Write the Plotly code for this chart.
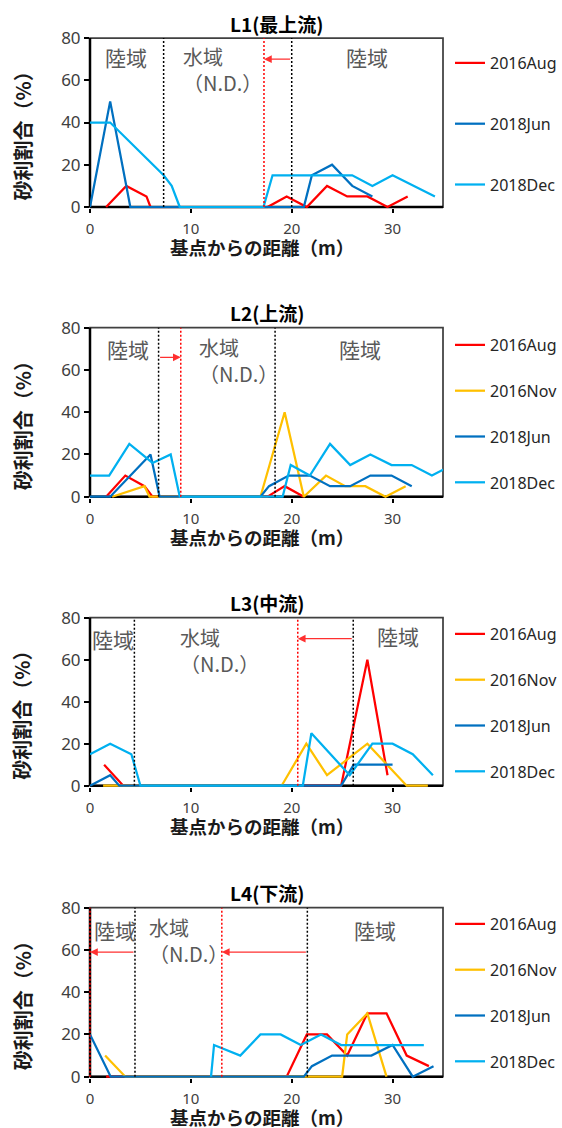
import plotly.graph_objects as go

# Gravel ratio (%) along each transect, by distance from the base point (m)
# ---------------------------------------------------------------- L1 (最上流)
L1_AUG_X = [1.6, 3.6, 5.6, 6.0, 17.6, 19.5, 21.5, 23.5, 25.5, 27.5, 29.5, 31.5]
L1_AUG_Y = [0, 10, 5, 0, 0, 5, 0, 10, 5, 5, 0, 5]
L1_JUN_X = [0, 2, 4, 21.2, 22, 24, 26, 28]
L1_JUN_Y = [0, 50, 0, 0, 15, 20, 10, 5]
L1_DEC_X = [0, 2, 7.3, 8.1, 8.9, 17.2, 18.1, 26, 28, 30, 34.2]
L1_DEC_Y = [40, 40, 15, 10, 0, 0, 15, 15, 10, 15, 5]

# ---------------------------------------------------------------- L2 (上流)
L2_AUG_X = [1.6, 3.5, 5.4, 6.2, 17.6, 19.3, 21.2]
L2_AUG_Y = [0, 10, 5, 0, 0, 5, 0]
L2_NOV_X = [2.2, 5.4, 5.9, 16.9, 19.3, 21.2, 23.4, 25.3, 27.3, 29.3, 31.3]
L2_NOV_Y = [0, 5, 0, 0, 40, 0, 10, 5, 5, 0, 5]
L2_JUN_X = [0, 2, 6, 6.9, 16.9, 17.75, 19.7, 21.8, 23.8, 25.8, 27.8, 29.9, 31.9]
L2_JUN_Y = [0, 0, 20, 0, 0, 5, 10, 10, 5, 5, 10, 10, 5]
L2_DEC_X = [0, 1.9, 3.9, 6.2, 8.0, 8.9, 19.1, 19.9, 21.8, 23.8, 25.8, 27.8, 29.9, 31.9, 33.9, 35.9]
L2_DEC_Y = [10, 10, 25, 16, 20, 0, 0, 15, 10, 25, 15, 20, 15, 15, 10, 15]

# ---------------------------------------------------------------- L3 (中流)
L3_AUG_X = [1.4, 3.3, 24.9, 27.5, 29.5]
L3_AUG_Y = [10, 0, 0, 60, 5]
L3_NOV_X = [1.3, 3.3, 19.0, 21.45, 23.5, 27.5, 31.4, 33.5]
L3_NOV_Y = [0, 0, 0, 20, 5, 20, 0, 0]
L3_JUN_X = [0, 2.0, 2.9, 24.9, 26.15, 30.0]
L3_JUN_Y = [0, 5, 0, 0, 10, 10]
L3_DEC_X = [0, 2.0, 4.1, 5.0, 21.1, 21.95, 25.75, 28.0, 30.0, 32.0, 34.0]
L3_DEC_Y = [15, 20, 15, 0, 0, 25, 5, 20, 20, 15, 5]

# ---------------------------------------------------------------- L4 (下流)
L4_AUG_X = [1.6, 19.5, 21.5, 23.5, 25.5, 27.5, 29.4, 31.4, 33.6]
L4_AUG_Y = [0, 0, 20, 20, 10, 30, 30, 10, 5]
L4_NOV_X = [1.5, 3.5, 25.0, 25.5, 27.5, 29.4]
L4_NOV_Y = [10, 0, 0, 20, 30, 0]
L4_JUN_X = [0, 2.05, 21.2, 22.0, 24.0, 26.0, 27.9, 30.0, 32.0, 34.06]
L4_JUN_Y = [20, 0, 0, 5, 10, 10, 10, 15, 0, 5]
L4_DEC_X = [12.0, 12.3, 14.9, 16.9, 18.9, 20.9, 22.9, 24.9, 33.1]
L4_DEC_Y = [0, 15, 10, 20, 20, 15, 20, 15, 15]

# Land/water boundaries (m): black = current edge, red = shifted edge
L1_EDGE_BLACK, L1_EDGE_RED = [7.3, 20.0], [17.25]
L2_EDGE_BLACK, L2_EDGE_RED = [6.8, 18.35], [9.0]
L3_EDGE_BLACK, L3_EDGE_RED = [4.4, 26.1], [20.6]
L4_EDGE_BLACK, L4_EDGE_RED = [4.46, 21.55], [0.0, 13.07]

X_TICKS = [0, 10, 20, 30]
Y_TICKS = [0, 20, 40, 60, 80]

# ---------------------------------------------------------------- layout
FIG_W, FIG_H = 562, 1128
X_RANGE = [0, 35]
Y_RANGE = [-0.6, 80]
PLOT_LEFT, PLOT_RIGHT = 90, 443

COLORS = {"2016Aug": "#FF0000", "2016Nov": "#FFC000",
          "2018Jun": "#0070C0", "2018Dec": "#00B0F0"}
CJK = "Noto Sans CJK JP"
LATIN = "Noto Sans"


def px_x(p):
    return p / FIG_W


def px_y(p):
    return 1 - p / FIG_H


def xfrac(v):
    return (v - X_RANGE[0]) / (X_RANGE[1] - X_RANGE[0])


ZERO_FRAC = (0 - Y_RANGE[0]) / (Y_RANGE[1] - Y_RANGE[0])

PANELS = [
    dict(name="L1", title="L1(最上流)", top=38, bottom=207,
         series=[("2016Aug", L1_AUG_X, L1_AUG_Y), ("2018Jun", L1_JUN_X, L1_JUN_Y),
                 ("2018Dec", L1_DEC_X, L1_DEC_Y)],
         black=L1_EDGE_BLACK, red=L1_EDGE_RED,
         arrows=[(20.0, 17.25, 70)],
         land=[(3.6, 71), (27.5, 71)], water=(9.0, 65.1),
         legend_top=46, legend_gap=37),
    dict(name="L2", title="L2(上流)", top=327.7, bottom=496.7,
         series=[("2016Aug", L2_AUG_X, L2_AUG_Y), ("2016Nov", L2_NOV_X, L2_NOV_Y),
                 ("2018Jun", L2_JUN_X, L2_JUN_Y), ("2018Dec", L2_DEC_X, L2_DEC_Y)],
         black=L2_EDGE_BLACK, red=L2_EDGE_RED,
         arrows=[(6.8, 9.0, 66)],
         land=[(3.8, 70), (26.8, 70)], water=(10.6, 64.5),
         legend_top=328, legend_gap=22),
    dict(name="L3", title="L3(中流)", top=617.7, bottom=785.7,
         series=[("2016Aug", L3_AUG_X, L3_AUG_Y), ("2016Nov", L3_NOV_X, L3_NOV_Y),
                 ("2018Jun", L3_JUN_X, L3_JUN_Y), ("2018Dec", L3_DEC_X, L3_DEC_Y)],
         black=L3_EDGE_BLACK, red=L3_EDGE_RED,
         arrows=[(26.1, 20.6, 70)],
         land=[(2.25, 70), (30.5, 71.5)], water=(8.75, 64.4),
         legend_top=617, legend_gap=22),
    dict(name="L4", title="L4(下流)", top=907.7, bottom=1076.7,
         series=[("2016Aug", L4_AUG_X, L4_AUG_Y), ("2016Nov", L4_NOV_X, L4_NOV_Y),
                 ("2018Jun", L4_JUN_X, L4_JUN_Y), ("2018Dec", L4_DEC_X, L4_DEC_Y)],
         black=L4_EDGE_BLACK, red=L4_EDGE_RED,
         arrows=[(4.46, 0.0, 59), (21.55, 13.07, 59)],
         land=[(2.5, 69.6), (28.3, 69.6)], water=(5.65, 64.5),
         legend_top=907, legend_gap=22),
]

fig = go.Figure()
layout = dict(
    width=FIG_W, height=FIG_H,
    margin=dict(l=0, r=0, t=0, b=0, autoexpand=False),
    paper_bgcolor="white", plot_bgcolor="white",
    showlegend=True,
)
shapes, annotations = [], []

for i, p in enumerate(PANELS, start=1):
    sfx = "" if i == 1 else str(i)
    xa, ya = "x" + sfx, "y" + sfx
    legend_key = "legend" + sfx

    for label, xs, ys in p["series"]:
        fig.add_trace(go.Scatter(
            x=xs, y=ys, mode="lines", name=label,
            line=dict(color=COLORS[label], width=2.25),
            xaxis=xa, yaxis=ya, legend=legend_key,
            legendgroup=f"{p['name']}-{label}", hoverinfo="skip",
        ))

    plot_h = p["bottom"] - p["top"]
    layout["xaxis" + sfx] = dict(
        domain=[px_x(PLOT_LEFT), px_x(PLOT_RIGHT)], anchor=ya, automargin=False,
        range=X_RANGE, tickvals=X_TICKS, ticks="outside", ticklen=4,
        tickwidth=1.5, tickcolor="#000", showline=False, showgrid=False,
        zeroline=False, ticklabelstandoff=3,
        tickfont=dict(family=LATIN, size=15, color="#404040"),
    )
    layout["yaxis" + sfx] = dict(
        domain=[px_y(p["bottom"] + (0 - Y_RANGE[0]) * plot_h / Y_RANGE[1]),
                px_y(p["top"])],
        anchor=xa, automargin=False, range=Y_RANGE, tickvals=Y_TICKS,
        ticks="outside", ticklen=5, tickwidth=1.5, tickcolor="#000",
        showline=False, showgrid=False, zeroline=False, ticklabelstandoff=0,
        tickfont=dict(family=LATIN, size=17, color="#404040"),
    )
    layout[legend_key] = dict(
        x=px_x(450), y=px_y(p["legend_top"]), xanchor="left", yanchor="top",
        traceorder="grouped", tracegroupgap=p["legend_gap"],
        bgcolor="rgba(0,0,0,0)", borderwidth=0,
        font=dict(family=LATIN, size=16, color="#262626"),
    )

    xd, yd = xa + " domain", ya + " domain"
    # plot frame, then the heavier left and bottom axis lines
    shapes.append(dict(type="rect", xref=xd, yref=yd, x0=0, x1=1, y0=ZERO_FRAC, y1=1,
                       line=dict(color="#404040", width=1.75), layer="below"))
    shapes.append(dict(type="line", xref=xd, yref=yd, x0=0, x1=0, y0=ZERO_FRAC, y1=1,
                       line=dict(color="#000", width=2.5), layer="below"))
    shapes.append(dict(type="line", xref=xd, yref=yd, x0=0, x1=1, y0=ZERO_FRAC, y1=ZERO_FRAC,
                       line=dict(color="#000", width=2.5), layer="below"))

    for b in p["black"]:
        shapes.append(dict(type="line", xref=xd, yref=yd, x0=xfrac(b), x1=xfrac(b),
                           y0=ZERO_FRAC, y1=1,
                           line=dict(color="#000", width=1.5, dash="2px,2px")))
    for b in p["red"]:
        shapes.append(dict(type="line", xref=xd, yref=yd, x0=xfrac(b), x1=xfrac(b),
                           y0=ZERO_FRAC, y1=1,
                           line=dict(color="#FF0000", width=1.5, dash="2px,2px")))

    for x_from, x_to, yv in p["arrows"]:
        annotations.append(dict(
            xref=xa, yref=ya, axref=xa, ayref=ya, x=x_to, y=yv, ax=x_from, ay=yv,
            text="", showarrow=True, arrowhead=2, arrowsize=1.3, arrowwidth=1.2,
            arrowcolor="#FF3030", standoff=0, startstandoff=0,
        ))

    for lx, ly in p["land"]:
        annotations.append(dict(
            xref=xa, yref=ya, x=lx, y=ly, text="陸域", showarrow=False,
            font=dict(family=CJK, size=21, color="#595959"),
        ))
    wx, wy = p["water"]
    annotations.append(dict(
        xref=xa, yref=ya, x=wx, y=wy, text="水域<br>（N.D.）", showarrow=False,
        xanchor="left", yanchor="middle", align="left",
        font=dict(family=CJK, size=20, color="#595959"),
    ))

    # panel title and axis titles
    annotations.append(dict(
        xref="paper", yref="paper", x=px_x(228), y=px_y(p["top"] - 15),
        xanchor="left", yanchor="middle", text=f"<b>{p['title']}</b>", showarrow=False,
        font=dict(family=CJK, size=19, color="#000"),
    ))
    annotations.append(dict(
        xref="paper", yref="paper", x=px_x(22),
        y=px_y((p["top"] + p["bottom"]) / 2 + 9),
        xanchor="center", yanchor="middle", textangle=-90,
        text="<b>砂利割合（%）</b>", showarrow=False,
        font=dict(family=CJK, size=20, color="#1a1a1a"),
    ))
    annotations.append(dict(
        xref="paper", yref="paper", x=px_x(262), y=px_y(p["bottom"] + 40),
        xanchor="center", yanchor="middle",
        text="<b>基点からの距離（m）</b>", showarrow=False,
        font=dict(family=CJK, size=18.5, color="#1a1a1a"),
    ))

layout["shapes"] = shapes
layout["annotations"] = annotations
fig.update_layout(**layout)

fig.write_html("out.html")
